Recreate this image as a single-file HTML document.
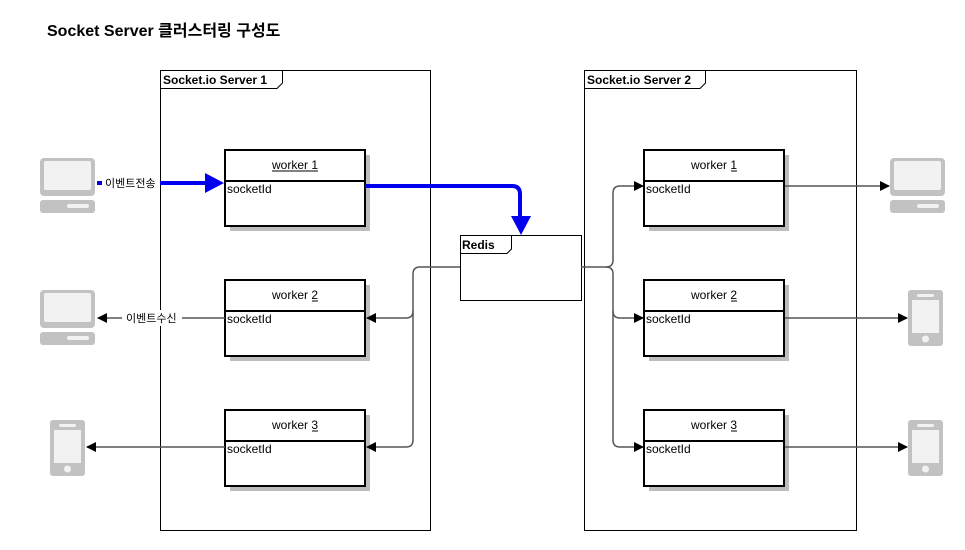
<!DOCTYPE html>
<html><head><meta charset="utf-8"><style>
html,body{margin:0;padding:0;background:#fff;}
svg{display:block;font-family:"Liberation Sans","Noto Sans CJK KR",sans-serif;}
</style></head><body>
<svg width="965" height="550" viewBox="0 0 965 550" xmlns="http://www.w3.org/2000/svg">
<defs>
<marker id="ag" markerWidth="10" markerHeight="10" refX="9" refY="5" orient="auto" markerUnits="userSpaceOnUse"><path d="M0,0 L10,5 L0,10 z" fill="#000"/></marker>
<g id="pc"><rect x="0" y="0" width="55" height="38" rx="4" fill="#c2c2c2"/><rect x="4" y="3" width="47" height="29" rx="2" fill="#f2f2f2"/><rect x="0" y="42" width="55" height="13" rx="3" fill="#c2c2c2"/><rect x="27" y="46" width="22" height="4" rx="2" fill="#f2f2f2"/></g>
<g id="ph"><rect x="0" y="0" width="35" height="56" rx="3" fill="#c2c2c2"/><rect x="9" y="4" width="17" height="3" rx="1.5" fill="#f2f2f2"/><rect x="4" y="10" width="27" height="33" fill="#f2f2f2"/><circle cx="17.5" cy="49" r="3.5" fill="#f2f2f2"/></g>
<g id="wk"><rect x="5" y="5" width="140" height="76" fill="#bdbdbd"/><rect x="0" y="0" width="140" height="76" fill="#fff" stroke="#000" stroke-width="2"/><line x1="0" y1="31" x2="140" y2="31" stroke="#000" stroke-width="2"/></g>
</defs>
<text x="47" y="36" font-size="16" font-weight="bold">Socket Server 클러스터링 구성도</text>

<!-- frames -->
<rect x="160.5" y="70.5" width="270" height="460" fill="none" stroke="#000"/>
<path d="M160.5,88.5 H277 L282.5,83 V70.5" fill="none" stroke="#000"/>
<text x="163" y="84" font-size="12" font-weight="bold">Socket.io Server 1</text>
<rect x="584.5" y="70.5" width="272" height="460" fill="none" stroke="#000"/>
<path d="M584.5,88.5 H700 L705.5,83 V70.5" fill="none" stroke="#000"/>
<text x="587" y="84" font-size="12" font-weight="bold">Socket.io Server 2</text>

<!-- redis -->
<rect x="460.5" y="235.5" width="121" height="65" fill="#fff" stroke="#000"/>
<path d="M460.5,253.5 H507 L511.5,249 V235.5" fill="none" stroke="#000"/>
<text x="462" y="249" font-size="12" font-weight="bold">Redis</text>

<!-- workers -->
<g font-size="12">
<use href="#wk" x="225" y="150"/><text x="295" y="169" text-anchor="middle">worker 1</text><line x1="272" y1="171" x2="318" y2="171" stroke="#000"/><text x="227" y="193">socketId</text>
<use href="#wk" x="225" y="280"/><text x="295" y="299" text-anchor="middle">worker 2</text><line x1="312" y1="301" x2="318" y2="301" stroke="#000"/><text x="227" y="323">socketId</text>
<use href="#wk" x="225" y="410"/><text x="295" y="429" text-anchor="middle">worker 3</text><line x1="312" y1="431" x2="318" y2="431" stroke="#000"/><text x="227" y="453">socketId</text>
<use href="#wk" x="644" y="150"/><text x="714" y="169" text-anchor="middle">worker 1</text><line x1="731" y1="171" x2="737" y2="171" stroke="#000"/><text x="646" y="193">socketId</text>
<use href="#wk" x="644" y="280"/><text x="714" y="299" text-anchor="middle">worker 2</text><line x1="731" y1="301" x2="737" y2="301" stroke="#000"/><text x="646" y="323">socketId</text>
<use href="#wk" x="644" y="410"/><text x="714" y="429" text-anchor="middle">worker 3</text><line x1="731" y1="431" x2="737" y2="431" stroke="#000"/><text x="646" y="453">socketId</text>
</g>

<!-- icons -->
<use href="#pc" x="40" y="158"/>
<use href="#pc" x="40" y="290"/>
<use href="#ph" x="50" y="420"/>
<use href="#pc" x="890" y="158"/>
<use href="#ph" x="908" y="290"/>
<use href="#ph" x="908" y="420"/>

<!-- gray connectors -->
<g fill="none" stroke="#555" stroke-width="1.5">
<path d="M460,267 H420 Q413,267 413,274 V311 Q413,318 406,318 H367" marker-end="url(#ag)"/>
<path d="M413,311 V440 Q413,447 406,447 H367" marker-end="url(#ag)"/>
<path d="M581,267 H606 Q613,267 613,260 V193 Q613,186 620,186 H643" marker-end="url(#ag)"/>
<path d="M606,267 Q613,267 613,274 V311 Q613,318 620,318 H643" marker-end="url(#ag)"/>
<path d="M613,311 V440 Q613,447 620,447 H643" marker-end="url(#ag)"/>
<path d="M785,186 H889" marker-end="url(#ag)"/>
<path d="M785,318 H907" marker-end="url(#ag)"/>
<path d="M785,447 H907" marker-end="url(#ag)"/>
<path d="M225,318 H182 M122,318 H98" marker-end="url(#ag)"/>
<path d="M225,447 H87" marker-end="url(#ag)"/>
</g>
<rect x="122" y="310" width="60" height="16" fill="#fff"/>
<text x="126" y="322" font-size="11">이벤트수신</text>

<!-- blue -->
<g fill="none" stroke="#0000ee" stroke-width="4">
<path d="M97,183 H102 M160,183 H207"/>
<path d="M365,186 H512 Q520,186 520,194 V218"/>
</g>
<path d="M205,173 L224,183 L205,193 z" fill="#0000ee"/>
<path d="M511,216 L521,235 L531,216 z" fill="#0000ee"/>
<text x="105" y="187" font-size="11">이벤트전송</text>
</svg>
</body></html>
